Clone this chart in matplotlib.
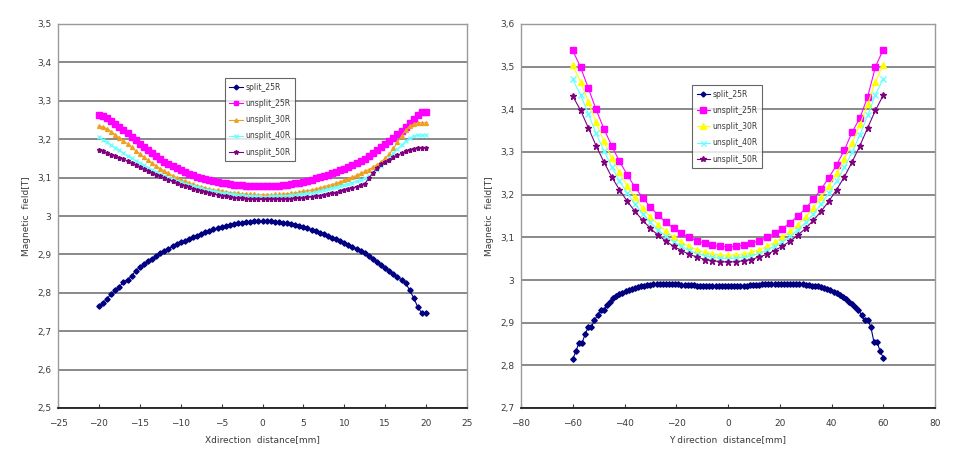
import matplotlib
matplotlib.use('Agg')
import matplotlib.pyplot as plt
from matplotlib.ticker import FuncFormatter
import numpy as np

# ---- X direction (left chart), sampled every 0.5 mm from -20 to 20
x_left = np.round(np.arange(-40, 41) * 0.5, 1)

split_25R_x = [2.766, 2.774, 2.784, 2.798, 2.806, 2.816, 2.828, 2.834, 2.843, 2.858,
               2.866, 2.874, 2.884, 2.889, 2.896, 2.904, 2.910, 2.914, 2.921, 2.928,
               2.933, 2.936, 2.941, 2.946, 2.949, 2.954, 2.958, 2.962, 2.965, 2.968,
               2.971, 2.974, 2.977, 2.979, 2.981, 2.983, 2.984, 2.985, 2.986, 2.986,
               2.986,
               2.986, 2.986, 2.985, 2.984, 2.983, 2.981, 2.979, 2.977, 2.974, 2.971,
               2.968, 2.964, 2.960, 2.956, 2.952, 2.948, 2.944, 2.940, 2.935, 2.930,
               2.925, 2.920, 2.914, 2.908, 2.903, 2.896, 2.889, 2.880, 2.872, 2.864,
               2.858, 2.848, 2.840, 2.834, 2.826, 2.806, 2.786, 2.762, 2.747, 2.747]

unsplit_25R_x = [3.263, 3.261, 3.256, 3.248, 3.240, 3.232, 3.224, 3.215, 3.206, 3.197,
                 3.188, 3.179, 3.171, 3.163, 3.156, 3.148, 3.141, 3.135, 3.129, 3.124,
                 3.119, 3.114, 3.110, 3.106, 3.102, 3.099, 3.096, 3.093, 3.091, 3.089,
                 3.087, 3.085, 3.083, 3.082, 3.081, 3.080, 3.079, 3.078, 3.078, 3.077,
                 3.077,
                 3.077, 3.078, 3.078, 3.079, 3.080, 3.081, 3.083, 3.085, 3.087, 3.089,
                 3.092, 3.095, 3.098, 3.101, 3.104, 3.107, 3.111, 3.115, 3.119, 3.123,
                 3.127, 3.132, 3.137, 3.143, 3.149, 3.156, 3.163, 3.171, 3.180, 3.188,
                 3.196, 3.204, 3.213, 3.222, 3.232, 3.242, 3.253, 3.263, 3.272, 3.272]

unsplit_30R_x = [3.234, 3.232, 3.227, 3.220, 3.212, 3.204, 3.196, 3.188, 3.179, 3.170,
                 3.162, 3.153, 3.145, 3.138, 3.131, 3.123, 3.117, 3.111, 3.105, 3.100,
                 3.095, 3.091, 3.087, 3.083, 3.079, 3.076, 3.073, 3.070, 3.068, 3.067,
                 3.065, 3.063, 3.061, 3.060, 3.059, 3.058, 3.057, 3.056, 3.056, 3.055,
                 3.055,
                 3.055, 3.055, 3.056, 3.056, 3.057, 3.058, 3.059, 3.060, 3.062, 3.064,
                 3.066, 3.068, 3.070, 3.073, 3.076, 3.079, 3.082, 3.085, 3.089, 3.093,
                 3.097, 3.101, 3.106, 3.111, 3.116, 3.121, 3.127, 3.133, 3.141, 3.150,
                 3.162, 3.176, 3.192, 3.208, 3.224, 3.234, 3.240, 3.243, 3.243, 3.243]

unsplit_40R_x = [3.206, 3.199, 3.192, 3.185, 3.178, 3.171, 3.164, 3.157, 3.150, 3.144,
                 3.138, 3.132, 3.126, 3.120, 3.115, 3.110, 3.105, 3.100, 3.096, 3.092,
                 3.088, 3.084, 3.081, 3.078, 3.075, 3.072, 3.069, 3.067, 3.065, 3.063,
                 3.061, 3.059, 3.057, 3.056, 3.055, 3.054, 3.053, 3.052, 3.051, 3.051,
                 3.050,
                 3.050, 3.051, 3.051, 3.052, 3.052, 3.053, 3.054, 3.055, 3.056, 3.057,
                 3.059, 3.061, 3.063, 3.065, 3.068, 3.070, 3.073, 3.075, 3.078, 3.081,
                 3.084, 3.087, 3.090, 3.093, 3.098, 3.104, 3.111, 3.119, 3.129, 3.140,
                 3.152, 3.163, 3.174, 3.185, 3.195, 3.203, 3.208, 3.210, 3.211, 3.211]

unsplit_50R_x = [3.172, 3.168, 3.164, 3.160, 3.156, 3.152, 3.148, 3.143, 3.138, 3.133,
                 3.128, 3.123, 3.118, 3.113, 3.108, 3.103, 3.099, 3.094, 3.090, 3.086,
                 3.082, 3.078, 3.075, 3.071, 3.068, 3.065, 3.062, 3.060, 3.057, 3.055,
                 3.053, 3.051, 3.049, 3.048, 3.047, 3.046, 3.045, 3.044, 3.044, 3.043,
                 3.043,
                 3.043, 3.043, 3.044, 3.044, 3.044, 3.045, 3.045, 3.046, 3.047, 3.048,
                 3.049, 3.050, 3.052, 3.053, 3.055, 3.057, 3.059, 3.061, 3.064, 3.067,
                 3.070, 3.073, 3.076, 3.080, 3.084, 3.098, 3.112, 3.125, 3.135, 3.141,
                 3.147, 3.153, 3.158, 3.163, 3.168, 3.172, 3.175, 3.177, 3.178, 3.178]

# ---- Y direction (right chart)
# split data every 1.2 mm, unsplit data every 3 mm
y_split = np.round(np.arange(-50, 51) * 1.2, 1)
y_unsplit = np.arange(-20, 21) * 3

split_25R_y = [2.814, 2.833, 2.853, 2.853, 2.873, 2.890, 2.890, 2.906, 2.918, 2.930,
               2.930, 2.941, 2.949, 2.957, 2.963, 2.967, 2.970, 2.974, 2.977, 2.980,
               2.981, 2.984, 2.986, 2.987, 2.988, 2.989, 2.990, 2.990, 2.991, 2.991,
               2.991, 2.991, 2.990, 2.990, 2.990, 2.989, 2.989, 2.988, 2.988, 2.988,
               2.987, 2.987, 2.987, 2.986, 2.986, 2.986, 2.986, 2.986, 2.986, 2.986,
               2.986,
               2.986, 2.986, 2.986, 2.987, 2.987, 2.987, 2.988, 2.988, 2.989, 2.989,
               2.990, 2.990, 2.990, 2.991, 2.991, 2.991, 2.991, 2.991, 2.991, 2.991,
               2.991, 2.990, 2.990, 2.990, 2.989, 2.988, 2.987, 2.986, 2.985, 2.983,
               2.981, 2.979, 2.976, 2.973, 2.969, 2.965, 2.961, 2.955, 2.949, 2.943,
               2.937, 2.930, 2.918, 2.906, 2.906, 2.890, 2.855, 2.855, 2.833, 2.818]

unsplit_25R_y = [3.538, 3.499, 3.450, 3.400, 3.355, 3.315, 3.279, 3.247, 3.218, 3.193,
                 3.171, 3.152, 3.135, 3.121, 3.109, 3.100, 3.092, 3.086, 3.081, 3.079,
                 3.078,
                 3.079, 3.081, 3.086, 3.092, 3.100, 3.109, 3.120, 3.134, 3.150, 3.168,
                 3.189, 3.213, 3.240, 3.270, 3.305, 3.347, 3.380, 3.430, 3.500, 3.540]

unsplit_30R_y = [3.503, 3.465, 3.418, 3.370, 3.326, 3.287, 3.252, 3.221, 3.194, 3.169,
                 3.148, 3.130, 3.114, 3.100, 3.088, 3.079, 3.071, 3.065, 3.061, 3.059,
                 3.058,
                 3.059, 3.061, 3.065, 3.071, 3.079, 3.088, 3.100, 3.114, 3.130, 3.148,
                 3.169, 3.194, 3.221, 3.250, 3.284, 3.322, 3.365, 3.412, 3.465, 3.505]

unsplit_40R_y = [3.470, 3.434, 3.390, 3.344, 3.303, 3.266, 3.233, 3.204, 3.178, 3.155,
                 3.135, 3.118, 3.102, 3.089, 3.079, 3.070, 3.062, 3.057, 3.053, 3.051,
                 3.050,
                 3.051, 3.053, 3.057, 3.062, 3.070, 3.079, 3.089, 3.102, 3.118, 3.135,
                 3.155, 3.178, 3.204, 3.232, 3.264, 3.300, 3.340, 3.386, 3.434, 3.472]

unsplit_50R_y = [3.431, 3.398, 3.357, 3.315, 3.277, 3.242, 3.212, 3.185, 3.161, 3.140,
                 3.121, 3.105, 3.091, 3.079, 3.069, 3.060, 3.054, 3.048, 3.045, 3.043,
                 3.042,
                 3.043, 3.045, 3.048, 3.054, 3.060, 3.069, 3.079, 3.091, 3.105, 3.121,
                 3.140, 3.161, 3.185, 3.212, 3.242, 3.277, 3.315, 3.357, 3.398, 3.433]

labels = ['split_25R', 'unsplit_25R', 'unsplit_30R', 'unsplit_40R', 'unsplit_50R']

plt.rcParams['font.family'] = ['DejaVu Sans']
txt_col = '#3a3a3a'
grid_col = '#808080'


def comma_fmt(v, pos):
    s = ('%.1f' % v).rstrip('0').rstrip('.')
    return s.replace('.', ',')


def style_axes(ax, xlim, xticks, ylim, yticks, xlabel):
    ax.set_xlim(*xlim)
    ax.set_ylim(*ylim)
    ax.set_xticks(xticks)
    ax.set_yticks(yticks)
    ax.yaxis.set_major_formatter(FuncFormatter(comma_fmt))
    ax.yaxis.grid(True, color=grid_col, linewidth=1.3)
    ax.set_axisbelow(True)
    for s in ['top', 'right', 'left']:
        ax.spines[s].set_color('#9a9a9a')
        ax.spines[s].set_linewidth(1.0)
    ax.spines['bottom'].set_color('#202020')
    ax.spines['bottom'].set_linewidth(1.3)
    ax.tick_params(axis='x', direction='in', length=3, colors=txt_col, labelsize=6.5, pad=8)
    ax.tick_params(axis='y', length=0, colors=txt_col, labelsize=6.5, pad=5)
    ax.set_xlabel(xlabel, fontsize=6.5, color=txt_col, labelpad=5)
    ax.set_ylabel('Magnetic  field[T]', fontsize=6.5, color=txt_col, labelpad=4)


fig = plt.figure(figsize=(9.69, 4.66), dpi=100)
ax1 = fig.add_axes([58 / 969, 58 / 466, 409 / 969, 384 / 466])
ax2 = fig.add_axes([521 / 969, 58 / 466, 414 / 969, 384 / 466])

# left chart
ax1.plot(x_left, split_25R_x, color='#000080', marker='D', ms=2.7, lw=0.8, label=labels[0])
ax1.plot(x_left, unsplit_25R_x, color='#FF00FF', marker='s', ms=3.9, lw=0.8, label=labels[1])
ax1.plot(x_left, unsplit_30R_x, color='#F0A020', marker='^', ms=2.8, lw=0.8, label=labels[2])
ax1.plot(x_left, unsplit_40R_x, color='#66FFFF', marker='x', ms=3.0, mew=0.9, lw=0.8, label=labels[3])
ax1.plot(x_left, unsplit_50R_x, color='#800080', marker='*', ms=3.6, lw=0.8, label=labels[4])
style_axes(ax1, (-25, 25), np.arange(-25, 26, 5), (2.5, 3.5), np.arange(2.5, 3.51, 0.1),
           'Xdirection  distance[mm]')

# right chart
ax2.plot(y_split, split_25R_y, color='#000080', marker='D', ms=2.8, lw=0.8, label=labels[0])
ax2.plot(y_unsplit, unsplit_25R_y, color='#FF00FF', marker='s', ms=4.8, lw=0.8, label=labels[1])
ax2.plot(y_unsplit, unsplit_30R_y, color='#FFFF00', marker='^', ms=4.2, lw=0.8, label=labels[2])
ax2.plot(y_unsplit, unsplit_40R_y, color='#66FFFF', marker='x', ms=4.0, mew=1.0, lw=0.8, label=labels[3])
ax2.plot(y_unsplit, unsplit_50R_y, color='#800080', marker='*', ms=4.5, lw=0.8, label=labels[4])
style_axes(ax2, (-80, 80), np.arange(-80, 81, 20), (2.7, 3.6), np.arange(2.7, 3.61, 0.1),
           'Y direction  distance[mm]')

for ax, anchor in [(ax1, (0.408, 0.859)), (ax2, (0.413, 0.841))]:
    leg = ax.legend(loc='upper left', bbox_to_anchor=anchor, fontsize=5.5, frameon=True,
                    fancybox=False, edgecolor='#404040', handlelength=1.8, handletextpad=0.3,
                    labelspacing=0.95, borderpad=0.6, borderaxespad=0, markerscale=0.9)
    leg.get_frame().set_linewidth(0.8)
    for t in leg.get_texts():
        t.set_color(txt_col)

fig.savefig('out.png', dpi=100, facecolor='white')
